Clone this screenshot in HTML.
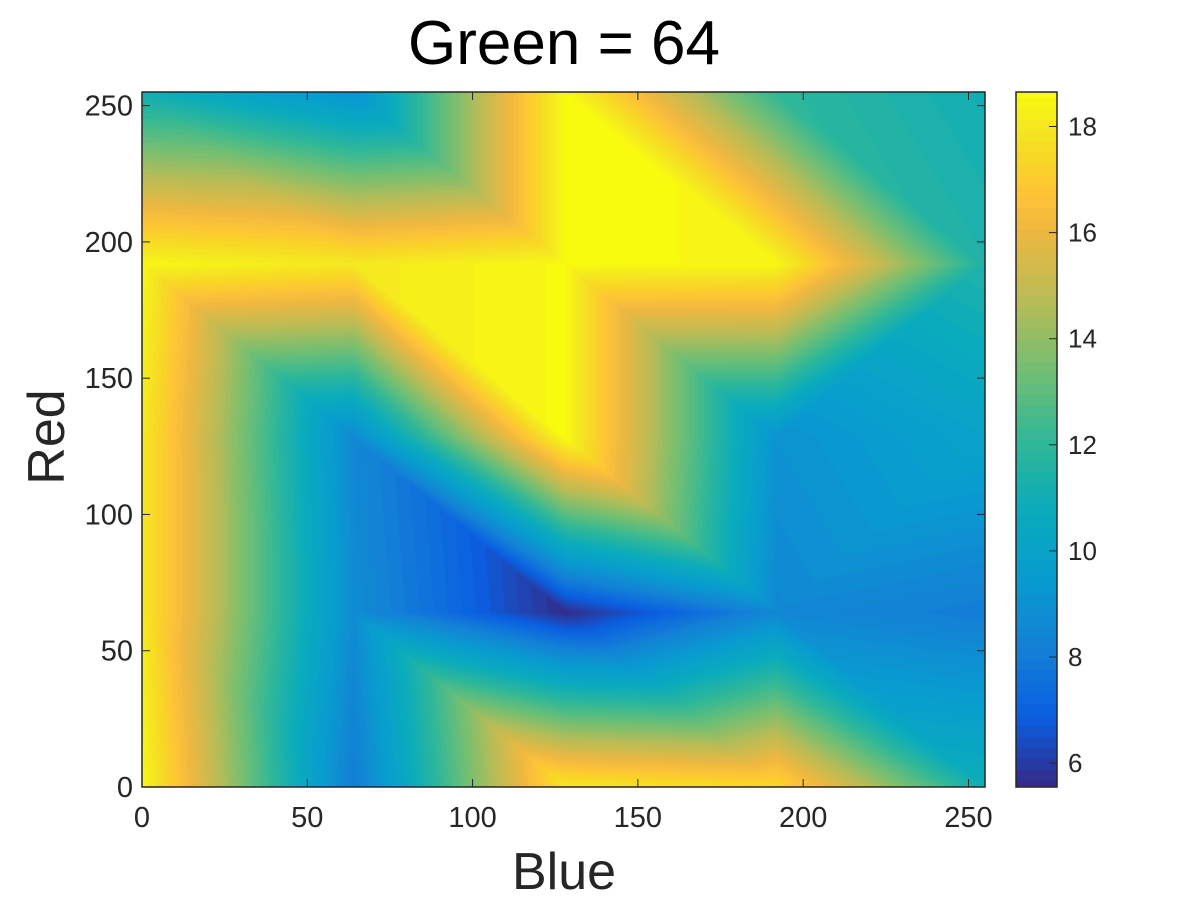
<!DOCTYPE html>
<html><head><meta charset="utf-8"><style>
body{margin:0;background:#fff;width:1200px;height:900px;overflow:hidden;position:relative;font-family:"Liberation Sans",sans-serif}
canvas{position:absolute}
svg{position:absolute;left:0;top:0}
</style></head><body>
<canvas id="hm" width="843" height="695" style="left:142px;top:92px"></canvas>
<canvas id="cb" width="41" height="695" style="left:1016px;top:92px"></canvas>
<svg id="ov" width="1200" height="900"></svg>
<script>
const blueVals=[0,64,128,192,255];
const redVals=[0,64,128,192,255];
// values[rowIndex(red)][colIndex(blue)]
const row0=[18.5,8,18,17.5,11];
const row64=[18,8.7,5.6,8.5,8];
const row128=[18,8.5,18.6,9,10];
const row192=[18.5,18,18.6,18.5,11.5];
const row255=[11,9,18.6,12,11];
const values=[row0,row64,row128,row192,row255];
// triangulation diagonal per cell [red cell][blue cell]: 'A' joins top-left/bottom-right, 'B' joins bottom-left/top-right
const diag=[['A','A','A','A'],['A','A','A','B'],['A','A','A','B'],['A','A','A','A']];
const cmin=5.55,cmax=18.65;
const xTicks=[0,50,100,150,200,250];
const yTicks=[0,50,100,150,200,250];
const cTicks=[6,8,10,12,14,16,18];

const L=142,R=985,T=92,B=787;
const xs=v=>L+(v/255)*(R-L);
const ys=v=>B-(v/255)*(B-T);
const cs=v=>B-(v-cmin)/(cmax-cmin)*(B-T);

const PT=[0,0.1,0.2,0.3,0.4,0.5,0.6,0.7,0.8,0.85,0.9,0.95,1];
const P=[[53,42,135],[10,95,225],[20,129,214],[8,156,207],[10,172,188],[50,184,151],[115,191,114],[185,188,86],[238,184,64],[254,195,56],[248,214,38],[245,232,32],[249,251,14]];
function cmap(v){let t=(v-cmin)/(cmax-cmin);t=Math.max(0,Math.min(1,t));t=Math.round(t*63)/63;let i=0;while(i<PT.length-2&&t>PT[i+1])i++;const u=(t-PT[i])/(PT[i+1]-PT[i]);return P[i].map((c,k)=>c+(P[i+1][k]-c)*u);}
function seg(arr,v){for(let i=0;i<arr.length-1;i++)if(v<=arr[i+1])return i;return arr.length-2;}
function val(b,r){const i=seg(blueVals,b),j=seg(redVals,r);const u=(b-blueVals[i])/(blueVals[i+1]-blueVals[i]),w=(r-redVals[j])/(redVals[j+1]-redVals[j]);
const v00=values[j][i],v10=values[j][i+1],v01=values[j+1][i],v11=values[j+1][i+1];
if(diag[j][i]==='A'){if(u+w<=1)return v00+(v10-v00)*u+(v01-v00)*w;return v11+(v01-v11)*(1-u)+(v10-v11)*(1-w);}
if(u>=w)return v00+(v10-v00)*u+(v11-v10)*w;return v00+(v01-v00)*w+(v11-v01)*u;}
const hm=document.getElementById('hm'),ctx=hm.getContext('2d');const W=hm.width,H=hm.height;const img=ctx.createImageData(W,H);
for(let y=0;y<H;y++){const r=255*(1-y/(H-1));for(let x=0;x<W;x++){const b=255*x/(W-1);const c=cmap(val(b,r));const o=(y*W+x)*4;img.data[o]=c[0];img.data[o+1]=c[1];img.data[o+2]=c[2];img.data[o+3]=255;}}
ctx.putImageData(img,0,0);
const cb=document.getElementById('cb'),cc=cb.getContext('2d');
for(let y=0;y<cb.height;y++){const v=cmax-(cmax-cmin)*y/(cb.height-1);const c=cmap(v);cc.fillStyle=`rgb(${c[0]|0},${c[1]|0},${c[2]|0})`;cc.fillRect(0,y,41,1);}
const svg=document.getElementById('ov');const NS='http://www.w3.org/2000/svg';
function mk(t,a,txt){const e=document.createElementNS(NS,t);for(const k in a)e.setAttribute(k,a[k]);if(txt!==undefined)e.textContent=txt;svg.appendChild(e);return e;}
let e;
e=mk('rect',{x:L,y:T,width:R-L,height:B-T,fill:'none',stroke:'#262626','stroke-width':1.5});

e=mk('rect',{x:1016,y:T,width:41,height:B-T,fill:'none',stroke:'#262626','stroke-width':1.5});

xTicks.forEach(t=>{const x=xs(t);mk('line',{x1:x,x2:x,y1:B,y2:B-8,stroke:'#262626'});mk('line',{x1:x,x2:x,y1:T,y2:T+8,stroke:'#262626'});
e=mk('text',{x:x,y:827,'text-anchor':'middle','font-size':29,fill:'#262626'},t);});
yTicks.forEach(t=>{const y=ys(t);mk('line',{x1:L,x2:L+8,y1:y,y2:y,stroke:'#262626'});mk('line',{x1:R,x2:R-8,y1:y,y2:y,stroke:'#262626'});
e=mk('text',{x:133,y:y+10,'text-anchor':'end','font-size':29,fill:'#262626'},t);});
cTicks.forEach(t=>{const y=cs(t);mk('line',{x1:1049,x2:1057,y1:y,y2:y,stroke:'#262626'});
e=mk('text',{x:1068,y:y+9,'font-size':26,fill:'#262626'},t);});
e=mk('text',{x:564,y:64,'text-anchor':'middle','font-size':62,fill:'#000'},'Green = 64');
e=mk('text',{x:564,y:889,'text-anchor':'middle','font-size':52,fill:'#262626'},'Blue');
e=mk('text',{x:64,y:437,'text-anchor':'middle','font-size':52,fill:'#262626',transform:'rotate(-90 64 437)'},'Red');
</script>
</body></html>
